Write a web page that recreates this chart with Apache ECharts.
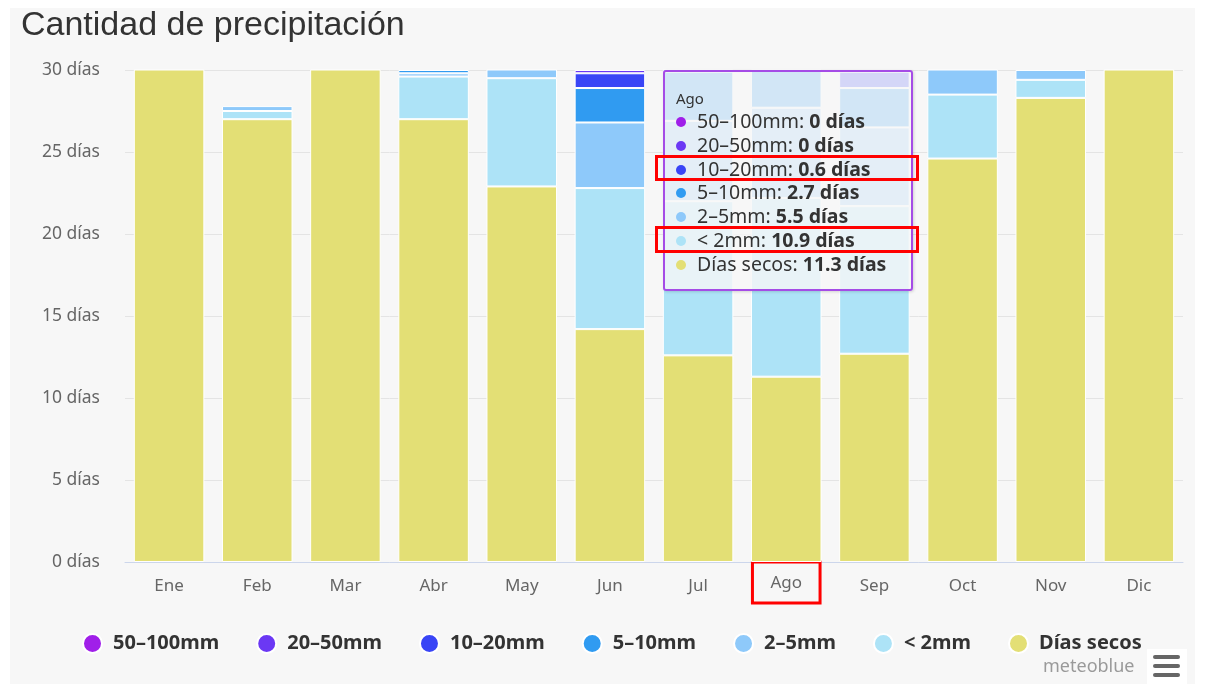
<!DOCTYPE html>
<html>
<head>
<meta charset="utf-8">
<title>Cantidad de precipitación</title>
<script src="https://cdn.jsdelivr.net/npm/echarts@6/dist/echarts.min.js"></script>
<style>
  html, body { margin: 0; padding: 0; background: #ffffff; }
  #chart { position: absolute; left: 10px; top: 8px; width: 1185px; height: 676px; background: #f7f7f7; }
</style>
</head>
<body>
<div id="chart"></div>
<script>
// Monthly days per precipitation class (days per month)
var months = ['Ene', 'Feb', 'Mar', 'Abr', 'May', 'Jun', 'Jul', 'Ago', 'Sep', 'Oct', 'Nov', 'Dic'];
var diasSecos = [31, 27.0, 31, 27.0, 22.9, 14.2, 12.6, 11.3, 12.7, 24.6, 28.3, 31];
var menos2mm  = [0, 0.5, 0, 2.6, 6.6, 8.6, 9.4, 10.9, 9.0, 3.9, 1.1, 0];
var mm2a5     = [0, 0.3, 0, 0.2, 1.2, 4.0, 4.9, 5.5, 4.8, 2.0, 0.6, 0];
var mm5a10    = [0, 0, 0, 0.2, 0.3, 2.1, 3.0, 2.7, 2.4, 0.5, 0, 0];
var mm10a20   = [0, 0, 0, 0, 0, 0.9, 0.9, 0.6, 1.0, 0, 0, 0];
var mm20a50   = [0, 0, 0, 0, 0, 0.2, 0.2, 0, 0.1, 0, 0, 0];
var mm50a100  = [0, 0, 0, 0, 0, 0, 0, 0, 0, 0, 0, 0];
var yTicks = [0, 5, 10, 15, 20, 25, 30];

// stacking order, bottom to top
var classes = [
  { name: 'Días secos', data: diasSecos, color: '#e3df75' },
  { name: '< 2mm',      data: menos2mm,  color: '#ade3f7' },
  { name: '2–5mm',      data: mm2a5,     color: '#8ec9fa' },
  { name: '5–10mm',     data: mm5a10,    color: '#309bf1' },
  { name: '10–20mm',    data: mm10a20,   color: '#3945f6' },
  { name: '20–50mm',    data: mm20a50,   color: '#6b38f4' },
  { name: '50–100mm',   data: mm50a100,  color: '#a01fe9' }
];
var highlightMonth = 7;          // Ago
var boxedRows = ['10–20mm', '< 2mm'];

var font = '"Noto Sans", "Open Sans", sans-serif';

var series = classes.map(function (c) {
  return {
    name: c.name,
    type: 'bar',
    stack: 'dias',
    barCategoryGap: '20%',
    clip: true,
    itemStyle: { color: c.color, borderColor: '#ffffff', borderWidth: 1 },
    emphasis: { disabled: true },
    data: c.data.map(function (v) { return v === 0 ? '-' : v; })
  };
});

function tooltipHtml(idx) {
  var rows = classes.slice().reverse().map(function (c) {
    var box = boxedRows.indexOf(c.name) >= 0
      ? '<div style="position:absolute;left:-21px;right:-8px;top:-2px;bottom:-1px;border:3px solid #ff0000;"></div>'
      : '';
    return '<div style="position:relative;height:23.8px;line-height:23.8px;white-space:nowrap;">' + box +
      '<span style="display:inline-block;width:10px;height:10px;border-radius:5px;background:' + c.color +
      ';margin-right:11px;vertical-align:1px;"></span>' +
      '<span>' + c.name + ': </span><b>' + c.data[idx] + ' días</b></div>';
  }).join('');
  return '<div style="padding:16px 0 0 11px;font-family:' + font.replace(/"/g, "'") + ';color:#333;">' +
    '<div style="font-size:15px;line-height:20px;margin-bottom:1px;">' + months[idx] + '</div>' +
    '<div style="font-size:19.5px;">' + rows + '</div></div>';
}

var chart = echarts.init(document.getElementById('chart'));
chart.setOption({
  backgroundColor: '#f7f7f7',
  animation: false,
  textStyle: { fontFamily: font },
  title: {
    text: 'Cantidad de precipitación',
    left: 6, top: -4,
    textStyle: { fontFamily: '"Liberation Sans", Arial, sans-serif', fontSize: 34, fontWeight: 'normal', color: '#333333' }
  },
  grid: { left: 115, right: 12, top: 62, bottom: 122 },
  legend: {
    data: classes.slice().reverse().map(function (c) { return c.name; }),
    top: 620, left: 67,
    icon: 'circle', itemWidth: 19, itemHeight: 19, itemGap: 37,
    selectedMode: false,
    textStyle: { fontSize: 20, fontWeight: 'bold', color: '#333333', padding: [0, 0, 0, 6] }
  },
  tooltip: {
    trigger: 'axis',
    triggerOn: 'none',
    alwaysShowContent: true,
    transitionDuration: 0,
    axisPointer: { type: 'none' },
    backgroundColor: 'rgba(247,247,247,0.82)',
    borderColor: '#a54ce6',
    borderWidth: 0,
    padding: 0,
    extraCssText: 'width:246px;height:217px;border:2px solid #a54ce6 !important;border-radius:3px;box-shadow:1px 1px 3px rgba(0,0,0,0.15);overflow:visible;',
    position: function () { return [653, 62]; },
    formatter: function (params) { return tooltipHtml(params[0].dataIndex); }
  },
  xAxis: {
    type: 'category',
    data: months,
    axisLine: { lineStyle: { color: '#ccd6eb' } },
    axisTick: { show: false },
    axisLabel: {
      margin: 0,
      formatter: function (v, i) { return i === highlightMonth ? '{b|' + v + '}' : '{n|' + v + '}'; },
      rich: {
        n: { fontSize: 17, color: '#666666', padding: [16, 18, 12, 18] },
        b: { fontSize: 17, color: '#666666', padding: [13, 18, 11, 18], borderColor: '#ff0000', borderWidth: 3 }
      }
    }
  },
  yAxis: {
    type: 'value',
    min: yTicks[0], max: yTicks[yTicks.length - 1], interval: yTicks[1] - yTicks[0],
    axisLine: { show: false },
    axisTick: { show: false },
    axisLabel: { margin: 25, fontSize: 17.5, color: '#666666', formatter: '{value} días' },
    splitLine: { lineStyle: { color: '#e4e4e4', width: 1 } }
  },
  graphic: [
    { type: 'text', left: 1033, top: 650, style: { text: 'meteoblue', fontSize: 18, fontFamily: font, fill: '#9a9a9a' } },
    { type: 'rect', left: 1137, top: 641, shape: { width: 40, height: 35 }, style: { fill: '#ffffff' } },
    { type: 'rect', left: 1143, top: 647, shape: { width: 27, height: 4, r: 2 }, style: { fill: '#666666' } },
    { type: 'rect', left: 1143, top: 656, shape: { width: 27, height: 4, r: 2 }, style: { fill: '#666666' } },
    { type: 'rect', left: 1143, top: 665, shape: { width: 27, height: 4, r: 2 }, style: { fill: '#666666' } }
  ],
  series: series
});
chart.dispatchAction({ type: 'showTip', seriesIndex: 0, dataIndex: highlightMonth });
</script>
</body>
</html>
